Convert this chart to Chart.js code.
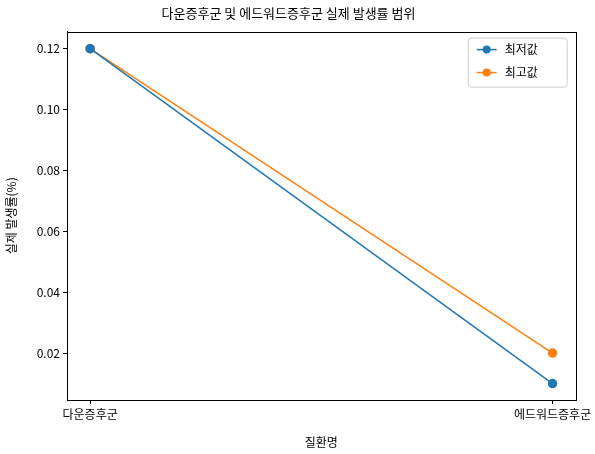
<!DOCTYPE html>
<html><head><meta charset="utf-8">
<script src="https://cdn.jsdelivr.net/npm/chart.js@4"></script>
<style>body{margin:0;background:#fff}#w{width:595px;height:454px}</style>
</head><body><div id="w"><canvas id="c"></canvas></div>
<script>
const categories=["다운증후군","에드워드증후군"];
const minVals=[0.12,0.01];
const maxVals=[0.12,0.02];
const yTicks=[0.02,0.04,0.06,0.08,0.10,0.12];
const seriesNames=["최저값","최고값"];
const colors=["#1f77b4","#ff7f0e"];
const F="'Noto Sans CJK KR','Noto Sans',sans-serif";
Chart.defaults.font.family=F;Chart.defaults.font.size=12;Chart.defaults.color="#000";
const legendPlugin={id:'lg',afterDraw(ch){const c=ch.ctx,a=ch.chartArea;
c.save();c.strokeStyle='#000';c.lineWidth=1;c.strokeRect(Math.round(a.left)+0.5,Math.round(a.top)+0.5,Math.round(a.right-a.left),Math.round(a.bottom-a.top));
const x0=a.right-108,y0=a.top+6;
c.fillStyle='rgba(255,255,255,0.8)';c.strokeStyle='#ccc';
c.beginPath();c.roundRect(x0+0.5,y0+0.5,99,49,3);c.fill();c.stroke();
seriesNames.forEach((n,i)=>{const y=y0+12+i*23;c.strokeStyle=colors[i];c.lineWidth=1.5;c.beginPath();c.moveTo(x0+9,y);c.lineTo(x0+29,y);c.stroke();
c.fillStyle=colors[i];c.beginPath();c.arc(x0+19,y,4,0,7);c.fill();c.fillStyle='#000';c.font='12px '+F;c.textBaseline='middle';c.fillText(n,x0+37,y);});
c.restore();}};
const tickGrid={display:true,drawOnChartArea:false,drawTicks:true,tickLength:4,color:'#000'};
new Chart(document.getElementById('c'),{type:'line',
data:{datasets:seriesNames.map((n,i)=>({label:n,data:(i?maxVals:minVals).map((v,j)=>({x:j,y:v})),borderColor:colors[i],backgroundColor:colors[i],borderWidth:1.5,pointRadius:4,pointHoverRadius:4}))},
options:{responsive:true,maintainAspectRatio:false,animation:false,
layout:{padding:{left:0,right:18,top:0,bottom:0}},
plugins:{legend:{display:false},tooltip:{enabled:false},title:{display:true,text:"다운증후군 및 에드워드증후군 실제 발생률 범위",font:{size:13,weight:'normal'},padding:{top:5,bottom:11}}},
scales:{x:{type:'linear',min:-0.05,max:1.05,grid:tickGrid,border:{color:'#000'},
afterBuildTicks(s){s.ticks=[{value:0},{value:1}];},
ticks:{callback:v=>categories[v],autoSkip:false,maxRotation:0},
title:{display:true,text:"질환명",padding:{top:2}},afterFit(s){s.height=54;}},
y:{min:0.0046,max:0.1256,grid:tickGrid,border:{color:'#000'},
afterBuildTicks(s){s.ticks=yTicks.map(v=>({value:v}));},
ticks:{callback:v=>v.toFixed(2)},
title:{display:true,text:"실제 발생률(%)"},afterFit(s){s.width=67;}}}},
plugins:[legendPlugin]});
</script></body></html>
